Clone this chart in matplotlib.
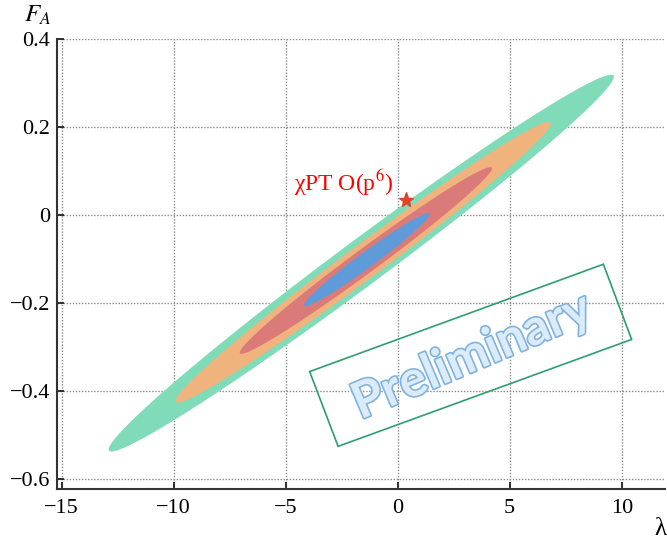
import matplotlib
matplotlib.use("Agg")
import matplotlib.pyplot as plt
import matplotlib.patheffects as pe
import numpy as np

plt.rcParams['font.family'] = ['Liberation Serif', 'DejaVu Serif']
plt.rcParams['mathtext.fontset'] = 'stix'

# confidence regions: lower-left tip, upper-right tip, vertical half-thickness at centre
region_names = ['outer', 'third', 'second', 'inner']
region_colors = ['#80dbb8', '#f1b37e', '#db7b79', '#5f9bd8']
tip_low = [(-12.9, -0.533), (-9.92, -0.423), (-7.05, -0.313), (-4.18, -0.205)]
tip_high = [(9.65, 0.314), (6.84, 0.208), (4.21, 0.106), (1.43, 0.002)]
half_width = [0.064, 0.048, 0.034, 0.022]

chpt_point = (0.39, 0.034)
chpt_label = "χPT O(p$^{6}$)"

stamp_text = "Preliminary"
stamp_center = (3.3, -0.322)
stamp_corners = [(-3.93, -0.356), (9.18, -0.112), (10.44, -0.283), (-2.66, -0.526)]

xticks = [-15, -10, -5, 0, 5, 10]
yticks = [0.4, 0.2, 0, -0.2, -0.4, -0.6]
ytick_labels = ['0.4', '0.2', '0', '\u22120.2', '\u22120.4', '\u22120.6']
xtick_labels = ['\u221215', '\u221210', '\u22125', '0', '5', '10']

fig = plt.figure(figsize=(6.67, 5.4), dpi=100)
ax = fig.add_axes([0.085, 0.0944, 0.912, 0.8334])

t = np.linspace(0, 2 * np.pi, 400)
for lo, hi, h, c in zip(tip_low, tip_high, half_width, region_colors):
    cx, cy = (lo[0] + hi[0]) / 2, (lo[1] + hi[1]) / 2
    rx, ry = (hi[0] - lo[0]) / 2, (hi[1] - lo[1]) / 2
    xs = cx + rx * np.cos(t)
    ys = cy + ry * np.cos(t) + h * np.sin(t)
    ax.fill(xs, ys, color=c, lw=0, zorder=2)

ax.plot(*chpt_point, marker='*', color='#e0452a', ms=11, zorder=4)
ax.text(chpt_point[0] - 0.6, chpt_point[1] + 0.02, chpt_label, color='red',
        fontsize=17, ha='right', va='baseline', zorder=4)

# watermark
ax.add_patch(plt.Polygon(stamp_corners, closed=True, fill=False,
                         edgecolor='#2e9e70', lw=1.2, zorder=3))
ax.text(*stamp_center, stamp_text, family='Lato', weight='bold', fontsize=36,
        color='#dcebf9', rotation=23, rotation_mode='anchor',
        ha='center', va='center', zorder=3,
        path_effects=[pe.withStroke(linewidth=2.4, foreground='#80b3df')])

ax.set_xlim(-15.22, 11.93)
ax.set_ylim(-0.623, 0.4)
ax.set_xticks(xticks)
ax.set_xticklabels(xtick_labels)
ax.set_yticks(yticks)
ax.set_yticklabels(ytick_labels)
ax.tick_params(direction='in', length=5, width=1.3, labelsize=16, color='#222')
ax.tick_params(axis='x', pad=7)
ax.tick_params(axis='y', pad=5)
ax.grid(True, color='#8a8a8a', linestyle=(0, (1, 1.2)), lw=1.0, zorder=1)
ax.set_axisbelow(True)
for s in ['top', 'right']:
    ax.spines[s].set_visible(False)
for s in ['left', 'bottom']:
    ax.spines[s].set_linewidth(1.5)
    ax.spines[s].set_color('#333')

fig.text(0.057, 0.972, "$F_A$", fontsize=18, ha='center', va='center')
fig.text(0.99, 0.02, "λ", fontsize=18, ha='center', va='center')

fig.savefig("out.png", dpi=100)
